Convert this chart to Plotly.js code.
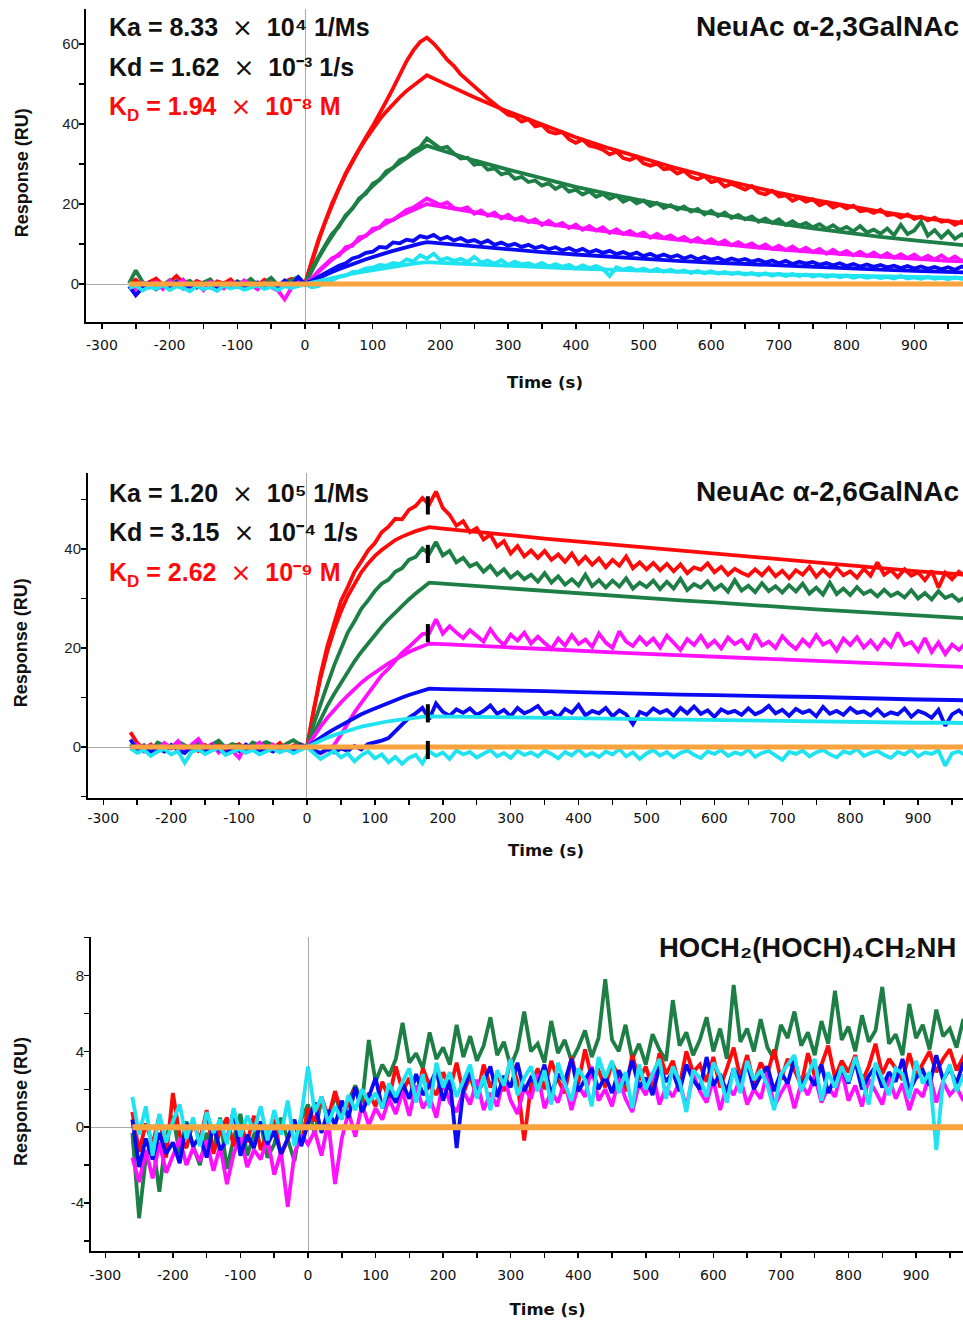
<!DOCTYPE html>
<html>
<head>
<meta charset="utf-8">
<script src="https://cdn.plot.ly/plotly-3.0.1.min.js"></script>
<style>
html,body{margin:0;padding:0;overflow:hidden;background:#fff;}
#chart{width:1004px;height:1321px;}
</style>
</head>
<body>
<div id="chart"></div>
<script>
// ---------- shared sampling grid (s) ----------
const time = [-260,-250,-240,-230,-220,-210,-200,-190,-180,-170,
-160,-150,-140,-130,-120,-110,-100,-90,-80,-70,
-60,-50,-40,-30,-20,-10,0,10,20,30,
40,50,60,70,80,90,100,110,120,130,
140,150,160,170,180,190,200,210,220,230,
240,250,260,270,280,290,300,310,320,330,
340,350,360,370,380,390,400,410,420,430,
440,450,460,470,480,490,500,510,520,530,
540,550,560,570,580,590,600,610,620,630,
640,650,660,670,680,690,700,710,720,730,
740,750,760,770,780,790,800,810,820,830,
840,850,860,870,880,890,900,910,920,930,
940,950,960,970,980];
const fitTime = [0,10,20,30,40,50,60,70,80,90,100,110,120,130,140,150,160,170,180,200,250,300,350,400,450,500,550,600,650,700,750,800,850,900,950,980];
const orangeTime = [-260,980];
const orangeValues = [0,0];

// ---------- tick labels ----------
const xTickVals = [-300,-200,-100,0,100,200,300,400,500,600,700,800,900];
const xTickText = ['-300','-200','-100','0','100','200','300','400','500','600','700','800','900'];
const p1YTicks = [0,20,40,60];
const p1YLabels = ['0','20','40','60'];
const p2YTicks = [0,20,40];
const p2YLabels = ['0','20','40'];
const p3YTicks = [-4,0,4,8];
const p3YLabels = ['-4','0','4','8'];

// ---------- panel 1 : NeuAc a-2,3GalNAc ----------
const p1RedData = [0.3,1.1,-0.4,0.6,1.4,-0.2,0.5,2.0,0.4,-0.6,
0.8,0.1,-0.9,0.7,0.2,1.2,-0.5,0.4,0.9,-0.3,
1.1,0.3,-0.7,0.6,1.3,0.4,0.0,5.8,11.2,15.7,
20.2,23.9,27.7,30.8,33.9,36.7,39.5,42.4,45.7,48.9,
52.3,55.7,58.4,60.5,61.6,60.1,58.2,56.1,54.5,52.4,
50.9,49.3,47.8,46.4,45.0,43.5,42.3,41.9,40.6,41.2,
39.4,39.8,38.1,37.6,38.0,36.2,35.3,36.1,34.6,34.2,
33.6,32.4,33.1,31.5,31.0,31.8,30.2,29.6,30.1,28.7,
28.9,27.6,28.3,26.8,26.2,27.0,25.5,25.9,24.4,25.1,
24.3,23.6,24.5,22.9,22.4,23.3,21.9,22.2,20.8,21.6,
20.6,21.2,19.7,20.4,19.1,19.8,18.9,19.6,18.2,18.5,
17.8,18.6,17.2,17.5,16.6,17.4,16.3,16.9,15.9,16.6,
15.6,15.9,14.8,15.7,15.0];
const p1GreenData = [0.2,3.4,0.6,-0.8,0.4,-0.3,1.0,-0.5,0.3,0.8,
-0.4,0.5,1.2,-0.6,0.2,-0.9,0.7,0.1,1.3,-0.2,
0.4,1.6,-0.3,0.5,0.9,1.8,0.0,3.8,6.9,9.8,
12.6,14.3,17.2,18.8,21.4,22.6,25.1,26.0,28.2,29.0,
31.0,31.6,33.3,34.2,36.4,35.1,33.9,34.3,32.6,31.4,
31.6,29.8,30.3,28.6,28.9,27.4,27.9,26.3,26.8,25.5,
25.9,24.6,25.2,23.8,24.7,23.1,23.6,22.4,23.2,21.8,
22.5,21.3,22.1,20.6,21.4,20.2,20.9,19.5,20.3,19.0,
19.7,18.6,19.4,18.1,18.8,17.4,18.3,17.0,17.9,16.5,
17.3,16.2,16.9,15.6,16.4,15.3,16.2,14.8,15.7,14.6,
15.3,14.2,15.0,13.8,14.7,13.5,14.3,13.2,14.5,12.9,
13.6,12.6,13.9,12.2,14.8,12.5,13.4,15.6,12.1,13.5,
11.6,13.2,11.3,12.4,11.0];
const p1MagentaData = [-0.6,-1.4,0.3,-0.8,0.5,-1.2,0.8,-0.4,1.1,-0.9,
0.2,-1.5,0.6,-0.3,-1.1,0.4,-0.7,0.9,-0.2,-1.3,
0.3,-0.8,-1.6,-3.8,-0.9,0.6,0.0,1.4,3.3,4.9,
6.5,7.1,9.2,9.6,11.7,12.0,13.8,14.1,15.9,16.0,
17.4,18.5,19.1,20.3,21.4,20.6,19.8,20.4,19.0,18.7,
19.2,17.6,18.4,17.1,17.9,16.4,17.3,16.0,16.8,15.5,
16.2,14.8,15.8,14.6,15.3,14.0,14.9,13.6,14.5,13.4,
14.2,12.8,13.7,12.5,13.3,12.2,12.9,11.6,12.6,11.5,
12.2,11.1,11.8,10.6,11.5,10.4,11.2,10.1,10.9,9.7,
10.5,9.5,10.2,9.1,9.9,8.8,9.6,8.5,9.4,8.3,
9.1,8.0,8.8,7.6,8.6,7.5,8.3,7.2,8.1,7.0,
7.9,6.8,7.7,6.6,7.5,6.5,7.4,6.2,7.1,6.1,
7.2,6.0,6.9,5.8,6.6];
const p1BlueData = [-0.5,-2.8,-0.9,0.4,-1.3,-0.2,-0.8,0.6,-1.1,-0.3,
-0.9,0.3,-0.6,-1.4,0.1,-0.7,0.5,-1.0,-0.2,0.4,
-0.8,0.2,-0.5,0.9,-0.3,1.7,0.0,0.9,1.9,2.8,
3.6,4.6,5.2,6.4,6.9,7.8,8.1,9.3,9.1,10.4,
10.2,11.1,10.8,12.0,11.6,12.3,11.2,11.8,10.9,11.5,
10.6,11.0,10.2,10.9,9.8,10.4,9.6,10.1,9.3,9.8,
9.0,9.5,8.7,9.2,8.4,9.0,8.2,8.8,7.9,8.5,
7.8,8.3,7.5,8.0,7.3,7.9,7.0,7.6,6.8,7.4,
6.7,7.2,6.4,7.0,6.2,6.8,6.1,6.6,5.8,6.4,
5.9,6.3,5.6,6.1,5.4,5.9,5.2,5.8,5.0,5.6,
5.1,5.5,4.8,5.3,4.7,5.2,4.5,5.0,4.4,4.9,
4.3,4.8,4.2,4.6,4.0,4.5,3.9,4.4,3.8,4.3,
3.7,4.2,3.6,4.4,3.8];
const p1CyanData = [-1.0,-0.4,-1.6,-0.7,-1.2,-0.3,-1.5,-0.6,-1.0,-1.8,
-0.5,-1.3,-0.8,-1.7,-0.4,-1.1,-0.6,-1.4,-0.9,-0.3,
-1.2,-0.7,-1.5,-0.5,-1.0,-0.4,0.0,-0.8,-0.5,0.4,
0.9,1.8,2.1,3.0,3.2,3.9,4.1,4.8,4.6,5.3,
5.0,6.2,5.7,7.2,6.4,7.6,6.0,6.5,5.8,6.3,
5.5,6.8,5.4,5.9,5.1,6.0,4.8,5.6,4.9,5.2,
4.6,5.3,4.4,5.0,4.3,4.8,3.9,4.7,4.0,4.5,
3.8,2.0,4.2,3.6,4.1,3.4,3.9,3.2,3.8,3.1,
3.6,3.0,3.4,2.8,3.3,2.7,3.2,2.6,3.0,2.5,
2.9,2.4,2.8,2.2,2.7,2.1,2.6,2.0,2.5,2.0,
2.4,1.9,2.3,1.8,2.2,1.7,2.1,1.6,2.0,1.6,
1.9,1.5,1.8,1.4,2.0,1.4,1.7,1.3,1.8,1.3,
1.6,1.2,1.7,1.3,1.5];
const p1RedFit = [0,5.7,10.8,15.6,19.9,23.8,27.4,30.6,33.6,36.3,38.8,41.1,43.1,45.0,46.7,48.3,49.7,51.0,52.2,50.6,46.7,43.1,39.8,36.7,33.9,31.3,28.9,26.7,24.7,22.8,21.1,19.5,18.1,16.8,15.7,15.1];
const p1GreenFit = [0,3.4,6.5,9.4,12.1,14.6,16.9,19.1,21.1,22.9,24.6,26.2,27.7,29.1,30.4,31.5,32.6,33.7,34.6,33.5,30.9,28.6,26.4,24.3,22.5,20.7,19.1,17.7,16.3,15.1,13.9,12.8,11.8,10.9,10.1,9.6];
const p1MagentaFit = [0,1.6,3.2,4.7,6.1,7.5,8.7,10.0,11.1,12.2,13.3,14.3,15.2,16.1,17.0,17.8,18.6,19.3,20.0,19.4,17.9,16.5,15.2,14.1,13.0,12.0,11.1,10.2,9.4,8.7,8.0,7.4,6.9,6.3,5.8,5.6];
const p1BlueFit = [0,0.8,1.6,2.3,3.0,3.7,4.4,5.0,5.6,6.2,6.8,7.3,7.8,8.3,8.8,9.3,9.7,10.1,10.5,10.2,9.4,8.7,8.0,7.4,6.8,6.3,5.8,5.4,5.0,4.6,4.2,3.9,3.6,3.3,3.1,2.9];
const p1CyanFit = [0,0.4,0.8,1.2,1.6,1.9,2.3,2.6,2.9,3.2,3.5,3.8,4.1,4.3,4.6,4.8,5.1,5.3,5.5,5.3,4.9,4.5,4.2,3.9,3.6,3.3,3.0,2.8,2.6,2.4,2.2,2.0,1.9,1.7,1.6,1.5];

// ---------- panel 2 : NeuAc a-2,6GalNAc ----------
const p2RedData = [3.0,0.8,-0.4,0.5,-0.9,0.3,-0.2,0.9,-0.6,0.2,
-0.8,0.4,-0.3,0.7,-1.0,0.1,0.6,-0.5,0.3,-0.7,
0.5,-0.2,0.8,-0.6,0.3,0.6,0.0,7.3,14.6,20.4,
25.1,29.5,32.3,35.4,37.5,39.7,41.2,43.4,44.5,46.1,
46.0,47.9,48.7,50.3,49.0,51.6,48.3,46.9,44.7,45.6,
43.4,44.2,41.9,42.9,40.5,41.6,39.1,40.6,38.5,39.7,
38.2,39.6,37.8,38.9,37.4,39.1,37.0,38.4,36.8,38.1,
36.3,37.8,36.6,38.5,36.1,37.3,35.9,37.2,35.7,37.0,
35.5,36.9,35.1,36.3,35.8,37.1,35.3,36.4,34.8,36.0,
35.2,34.6,35.9,34.7,36.2,34.5,35.6,34.1,35.7,34.8,
36.4,34.4,35.8,34.5,36.2,34.7,35.5,34.2,36.0,34.6,
37.3,34.8,35.7,34.3,35.9,34.6,35.3,33.7,35.6,32.2,
35.2,33.9,35.4,34.5,35.0];
const p2GreenData = [0.6,-0.5,0.4,-0.8,0.9,0.2,-0.3,1.1,0.3,-0.4,
0.8,-0.2,0.5,1.3,-0.1,0.6,0.2,-0.5,0.9,0.4,
1.0,0.3,-0.2,0.7,1.4,0.5,0.0,4.6,8.9,12.6,
16.5,19.8,23.1,25.4,27.9,29.6,31.5,33.0,33.8,35.4,
36.1,37.8,38.4,40.1,39.0,41.4,38.7,39.6,37.3,38.2,
36.5,37.1,35.4,36.6,34.8,35.9,34.2,35.3,33.9,34.8,
33.4,35.1,33.2,34.5,32.8,33.9,32.6,34.8,32.5,33.7,
32.2,33.6,32.4,34.1,32.0,33.2,32.3,33.6,31.9,33.4,
32.0,34.0,31.7,32.9,32.2,33.5,31.8,32.8,31.4,33.7,
31.6,32.6,31.3,33.1,31.5,32.5,31.2,32.7,31.4,33.0,
31.0,32.2,30.8,33.2,30.9,32.0,30.7,32.3,30.9,31.6,
30.4,31.8,30.5,31.2,30.2,31.7,30.0,31.1,29.8,31.5,
30.1,30.7,29.5,30.3,29.8];
const p2MagentaData = [-0.4,0.5,-0.9,0.3,-0.6,0.8,-0.2,1.2,-0.7,0.4,
1.6,-0.3,0.6,-1.1,0.2,-0.8,-2.2,0.4,-0.5,0.9,
-0.3,0.5,-0.9,0.2,-0.6,0.3,0.0,-0.8,-1.3,-0.6,
0.4,2.5,4.8,7.0,8.9,10.8,12.6,14.5,15.8,17.4,
19.0,20.2,21.6,22.8,23.0,25.8,22.9,24.4,23.1,22.0,
23.6,22.4,21.3,23.8,21.9,20.6,22.7,21.5,23.1,20.9,
22.3,21.0,19.8,21.9,20.5,22.6,20.8,21.7,20.2,22.9,
21.1,20.0,23.4,21.3,20.4,22.2,20.7,21.9,20.1,22.5,
21.0,19.6,21.8,20.6,22.4,20.3,21.5,19.9,22.1,20.8,
21.6,19.7,22.8,20.5,21.3,20.0,22.4,20.9,19.8,21.7,
20.4,22.6,20.7,21.4,19.5,21.9,20.6,22.2,20.1,21.5,
19.8,21.7,20.3,23.1,20.6,21.2,19.4,22.0,19.2,21.1,
18.8,20.7,19.6,21.0,20.2];
const p2BlueData = [1.5,-0.6,0.2,-1.1,-0.3,-0.9,0.4,-0.7,-1.2,0.1,
-0.5,-1.0,0.3,-0.6,-1.3,-0.2,-0.8,0.5,-0.4,-1.1,
-0.3,-0.9,0.2,-0.5,-1.0,0.4,0.0,-0.6,-1.2,-0.4,
-1.1,-0.3,-0.8,0.2,-0.5,0.6,0.9,1.3,1.8,3.2,
4.6,5.9,6.8,7.9,5.6,8.8,7.1,6.3,7.6,6.9,
7.8,6.5,7.3,8.4,6.7,7.5,6.2,7.9,6.8,7.4,
8.3,6.6,7.2,6.0,7.7,6.9,8.5,6.4,7.3,6.8,
7.9,6.2,7.4,6.6,4.6,7.1,6.5,7.8,6.9,7.5,
6.3,7.9,6.8,8.2,6.7,7.4,6.1,7.6,6.9,7.3,
6.5,7.8,6.6,7.2,8.3,6.8,7.5,6.3,7.7,6.9,
7.4,6.2,8.1,6.7,7.3,6.5,7.9,6.9,7.2,6.4,
7.6,6.3,7.0,6.6,7.8,6.1,7.3,6.8,5.9,7.5,
4.3,6.6,7.4,6.2,7.0];
const p2CyanData = [-0.3,-1.2,-0.6,-1.8,-0.9,-0.4,-1.5,-0.8,-3.2,-1.0,
-0.5,-1.4,-0.7,-0.2,-1.6,-0.9,-0.4,-1.2,-0.6,-1.5,
-0.8,-0.3,-1.1,-0.5,-1.3,-0.7,0.0,-1.2,-2.4,-1.6,
-0.8,-2.1,-1.3,-2.9,-1.7,-0.9,-2.3,-1.5,-3.1,-2.0,
-3.4,-2.2,-1.6,-3.3,-0.9,-1.8,-1.1,-2.4,-0.7,-1.5,
-1.0,-2.1,-1.4,-0.6,-1.9,-1.2,-2.2,-0.8,-1.6,-1.1,
-1.9,-0.7,-1.4,-2.3,-1.0,-1.7,-0.5,-1.8,-1.2,-2.0,
-0.9,-1.5,-0.4,-1.9,-1.1,-2.4,-1.3,-0.6,-1.7,-1.0,
-2.1,-1.2,-0.7,-1.6,-2.2,-0.9,-1.4,-0.6,-1.8,-1.1,
-1.5,-0.5,-2.0,-1.2,-0.8,-1.7,-2.6,-1.0,-1.4,-0.7,
-1.9,-1.1,-0.6,-1.5,-2.1,-0.9,-1.3,-0.4,-1.8,-1.2,
-0.8,-1.6,-2.2,-1.0,-1.5,-0.6,-1.9,-1.1,-1.4,-0.7,
-3.8,-1.3,-0.9,-1.7,-1.2];
const p2RedFit = [0,7.6,14.0,19.3,23.7,27.4,30.5,33.1,35.3,37.1,38.6,39.8,40.9,41.8,42.5,43.1,43.6,44.0,44.4,44.1,43.5,42.8,42.1,41.5,40.8,40.2,39.6,39.0,38.4,37.8,37.2,36.6,36.1,35.5,35.0,34.7];
const p2GreenFit = [0,2.9,5.7,8.3,10.7,13.0,15.2,17.3,19.2,21.0,22.7,24.3,25.8,27.2,28.6,29.8,31.0,32.2,33.2,33.0,32.5,32.0,31.5,31.0,30.5,30.1,29.6,29.2,28.7,28.3,27.8,27.4,27.0,26.6,26.2,25.9];
const p2MagentaFit = [0,2.1,4.1,5.9,7.5,9.0,10.4,11.8,13.0,14.1,15.1,16.0,16.9,17.7,18.5,19.2,19.8,20.4,20.9,20.8,20.4,20.1,19.8,19.4,19.1,18.8,18.5,18.2,17.9,17.6,17.3,17.0,16.8,16.5,16.2,16.1];
const p2BlueFit = [0,1.0,1.9,2.8,3.6,4.4,5.2,5.9,6.6,7.2,7.8,8.4,9.0,9.5,10.0,10.5,11.0,11.4,11.8,11.7,11.6,11.4,11.3,11.1,10.9,10.8,10.6,10.5,10.3,10.2,10.1,9.9,9.8,9.6,9.5,9.4];
const p2CyanFit = [0,0.7,1.3,1.9,2.4,2.9,3.3,3.7,4.1,4.4,4.7,4.9,5.2,5.4,5.6,5.8,5.9,6.1,6.2,6.2,6.1,6.0,5.9,5.8,5.7,5.6,5.5,5.4,5.3,5.3,5.2,5.1,5.0,4.9,4.9,4.8];
const p2EventTime = [178,178,178,178,178];
const p2EventValues = [48.8,39.0,23.0,6.8,-0.6];

// ---------- panel 3 : HOCH2(HOCH)4CH2NH ----------
const p3GreenData = [-0.3,-4.8,-1.6,-0.7,-3.4,-0.5,0.6,-1.4,0.3,-1.0,
-2.0,-0.3,-1.2,0.5,-2.2,-0.6,0.7,-1.5,-0.4,0.2,
-1.6,-0.9,0.5,-0.7,-1.8,0.4,1.2,-0.4,1.5,0.3,
1.7,0.6,1.4,2.2,1.3,4.6,2.4,3.3,2.7,3.6,
5.5,3.4,3.9,3.1,5.0,3.6,4.2,3.3,5.4,3.7,
4.8,3.5,4.3,5.8,3.8,4.5,3.2,4.1,6.1,4.0,
4.4,3.4,5.6,3.9,4.6,3.5,4.2,5.1,3.7,4.7,
7.8,4.6,4.0,5.4,3.6,4.4,3.3,4.9,4.1,3.5,
6.7,4.3,5.0,3.8,4.6,5.8,4.0,5.2,3.6,7.5,
4.5,5.2,4.0,5.7,4.2,3.6,5.4,4.7,6.1,4.3,
5.0,3.8,5.6,4.4,7.2,4.6,5.3,4.0,5.9,4.5,
5.1,7.4,4.4,4.9,3.8,6.5,4.7,5.4,4.1,6.2,
4.8,5.2,4.2,5.7,5.0];
const p3RedData = [0.8,-1.3,0.2,-0.9,0.6,-1.6,1.8,-0.4,-1.1,0.3,
-0.7,0.9,-1.4,-0.2,0.5,-1.0,0.1,-0.8,0.6,-1.2,
-0.3,0.4,-1.5,-0.6,0.2,-0.9,1.0,0.3,1.6,0.5,
1.9,0.7,1.2,2.1,0.9,1.8,1.1,2.4,1.5,3.2,
1.9,2.6,1.4,3.1,2.2,1.7,2.9,2.0,3.4,1.8,
2.7,1.6,3.3,2.1,2.8,1.9,3.6,2.4,-0.7,2.2,
3.1,2.0,3.5,2.5,1.8,3.7,2.3,4.1,2.6,3.0,
2.1,3.4,2.7,1.9,3.8,2.5,3.2,2.0,3.9,2.8,
3.5,2.2,4.0,2.9,3.3,2.4,3.7,2.1,3.1,4.2,
2.6,3.8,2.3,3.4,2.8,4.1,2.5,3.6,3.0,2.2,
3.9,2.7,3.3,4.3,2.6,3.5,2.9,3.8,2.4,3.2,
4.4,2.8,3.6,3.1,2.5,3.9,2.7,3.4,4.0,2.9,
3.6,4.1,3.0,3.7,3.3];
const p3MagentaData = [-1.6,-2.9,-1.2,-2.7,-0.8,-2.4,-1.5,-0.6,-2.0,-1.1,
-1.8,-0.7,-2.3,-1.0,-3.0,-1.4,-0.5,-2.1,-1.2,-1.7,
-0.6,-2.5,-1.3,-4.2,-1.4,-0.4,-0.9,-0.2,-1.5,0.3,
-3.0,-0.6,0.8,-0.5,1.2,0.1,1.0,0.4,1.5,0.7,
1.9,0.6,2.2,1.0,1.6,0.5,2.4,1.3,0.8,1.9,
1.2,2.5,0.9,1.8,1.1,2.7,1.4,0.7,2.1,1.5,
2.8,1.0,1.9,1.3,2.4,0.9,2.2,1.6,3.2,1.4,
2.0,1.1,2.6,1.5,0.8,2.3,1.7,2.9,1.2,2.1,
1.6,2.4,1.0,2.8,1.9,1.3,2.5,0.9,2.2,1.7,
2.6,1.2,2.0,1.5,2.9,1.1,1.8,2.4,1.0,2.3,
1.7,2.7,1.3,2.1,1.6,3.0,1.4,2.2,1.1,2.5,
1.9,1.2,2.6,1.5,2.3,0.9,2.0,1.6,2.8,1.3,
2.4,1.7,2.1,1.4,2.2];
const p3BlueData = [0.4,-2.1,-0.6,-1.7,-0.3,-1.4,-0.8,-1.9,0.2,-1.0,
-0.5,-1.6,0.1,-1.2,-0.7,0.9,-1.5,-0.4,-1.1,0.3,
-0.9,-0.2,-1.4,-0.6,0.4,-1.0,0.2,1.3,-0.3,0.9,
0.1,1.4,0.5,2.1,0.8,1.6,2.6,1.0,1.9,1.3,
2.3,1.5,2.8,1.7,2.2,3.0,1.4,2.5,-1.1,2.0,
2.9,1.8,2.4,3.2,1.6,2.7,2.1,3.4,1.9,2.6,
2.2,3.3,1.7,2.8,2.4,3.6,1.9,2.5,3.1,2.0,
2.7,1.8,3.0,2.3,3.5,2.1,2.6,1.7,3.2,2.4,
2.9,1.9,3.3,2.5,2.0,3.7,2.2,2.8,1.8,3.1,
2.4,3.4,2.0,2.7,3.2,1.9,2.9,2.3,3.6,2.1,
2.8,2.2,3.3,1.8,2.6,3.1,2.3,3.5,2.0,2.7,
3.2,2.1,2.9,2.4,3.6,1.9,2.6,3.0,2.2,3.8,
2.5,3.1,2.3,3.4,2.8];
const p3CyanData = [1.6,-0.4,1.1,-1.5,0.7,-0.8,0.3,1.2,-0.6,0.5,
-1.0,0.8,-0.3,0.4,-0.9,1.0,-0.5,0.6,-0.2,1.1,
-0.7,0.9,-0.4,1.4,-1.0,0.6,3.2,0.8,1.6,0.2,
1.1,0.4,1.7,0.9,2.0,1.3,1.8,1.0,2.3,1.6,
2.4,3.1,1.3,2.8,1.0,3.4,2.1,2.9,1.6,2.5,
3.3,1.5,2.7,0.9,3.0,2.2,3.6,1.7,2.6,3.2,
1.9,3.0,1.2,3.4,2.3,1.4,3.1,2.5,1.1,3.7,
2.6,3.5,1.8,2.9,1.0,3.3,2.0,2.8,3.6,1.5,
3.2,2.4,0.8,3.0,2.6,1.6,3.4,2.7,1.3,3.1,
1.8,3.5,2.5,3.0,2.2,0.9,2.8,3.3,3.8,1.9,
2.7,3.6,1.4,2.9,2.1,3.2,2.4,3.7,2.6,1.2,
3.4,2.6,1.7,3.1,2.8,1.5,3.5,2.3,2.9,-1.2,
2.4,3.3,1.9,2.7,2.6];

// ---------- styling ----------
const C = {red:'#ff0a0a', green:'#1e7f46', magenta:'#ff10ff', blue:'#0a0af5', cyan:'#1fe3f0', orange:'#f8a33e'};
const W = 1004, H = 1321;
const LW = 3.8;
const traces = [];
function line(x, y, color, width, xa, ya){
  traces.push({type:'scatter', mode:'lines', x:x, y:y, xaxis:xa, yaxis:ya,
    line:{color:color, width:width}, hoverinfo:'skip', showlegend:false});
}
// panel 1
line(time, p1RedData, C.red, LW, 'x', 'y');
line(fitTime, p1RedFit, C.red, LW, 'x', 'y');
line(time, p1GreenData, C.green, LW, 'x', 'y');
line(fitTime, p1GreenFit, C.green, LW, 'x', 'y');
line(time, p1MagentaData, C.magenta, LW, 'x', 'y');
line(fitTime, p1MagentaFit, C.magenta, LW, 'x', 'y');
line(time, p1BlueData, C.blue, LW, 'x', 'y');
line(fitTime, p1BlueFit, C.blue, LW, 'x', 'y');
line(time, p1CyanData, C.cyan, LW, 'x', 'y');
line(fitTime, p1CyanFit, C.cyan, LW, 'x', 'y');
line(orangeTime, orangeValues, C.orange, 5, 'x', 'y');
// panel 2
line(time, p2RedData, C.red, LW, 'x2', 'y2');
line(fitTime, p2RedFit, C.red, LW, 'x2', 'y2');
line(time, p2GreenData, C.green, LW, 'x2', 'y2');
line(fitTime, p2GreenFit, C.green, LW, 'x2', 'y2');
line(time, p2MagentaData, C.magenta, LW, 'x2', 'y2');
line(fitTime, p2MagentaFit, C.magenta, LW, 'x2', 'y2');
line(time, p2BlueData, C.blue, LW, 'x2', 'y2');
line(fitTime, p2BlueFit, C.blue, LW, 'x2', 'y2');
line(fitTime, p2CyanFit, C.cyan, LW, 'x2', 'y2');
line(time, p2CyanData, C.cyan, LW, 'x2', 'y2');
line(orangeTime, orangeValues, C.orange, 5, 'x2', 'y2');
traces.push({type:'scatter', mode:'markers', x:p2EventTime, y:p2EventValues, xaxis:'x2', yaxis:'y2',
  marker:{symbol:'line-ns', size:13, line:{color:'#000', width:4}}, hoverinfo:'skip', showlegend:false});
// panel 3
line(time, p3GreenData, C.green, LW, 'x3', 'y3');
line(time, p3RedData, C.red, LW, 'x3', 'y3');
line(time, p3MagentaData, C.magenta, LW, 'x3', 'y3');
line(time, p3BlueData, C.blue, LW, 'x3', 'y3');
line(time, p3CyanData, C.cyan, LW, 'x3', 'y3');
line(orangeTime, orangeValues, C.orange, 6, 'x3', 'y3');

const panels = [
  {n:'',  left:86, top:9,   bottom:321.7, xr:[-323.5,1032.5], yr:[-9.4,68.75],  yt:p1YTicks, yl:p1YLabels, ydt:10, xls:4, xts:25, yts:29},
  {n:'2', left:88, top:473, bottom:797.5, xr:[-322.5,1026.5], yr:[-10.2,55.35], yt:p2YTicks, yl:p2YLabels, ydt:10, xls:2, xts:19, yts:32},
  {n:'3', left:91, top:937, bottom:1251,  xr:[-321.2,1030.2], yr:[-6.53,10.03], yt:p3YTicks, yl:p3YLabels, ydt:2,  xls:5, xts:22, yts:38}
];
const layout = {
  width:W, height:H, margin:{l:0,r:0,t:0,b:0},
  paper_bgcolor:'#ffffff', plot_bgcolor:'rgba(0,0,0,0)', showlegend:false,
  annotations:[]
};
const tk = {tickcolor:'#000', tickwidth:1.5, ticklen:5};
const NB = '\u00a0';
panels.forEach(function(p, i){
  const xn = 'xaxis' + p.n, yn = 'yaxis' + p.n;
  const xid = 'x' + p.n, yid = 'y' + p.n;
  layout[xn] = Object.assign({
    domain:[p.left/W, 1], range:p.xr, anchor:yid,
    showline:true, linecolor:'#000', linewidth:2, ticks:'outside',
    tickmode:'array', tickvals:xTickVals, ticktext:xTickText, ticklabelstandoff:p.xls,
    minor:Object.assign({dtick:50, tick0:0, ticks:'outside', showgrid:false}, tk),
    tickfont:{family:'DejaVu Sans, Verdana, sans-serif', size:14, color:'#111'},
    zeroline:true, zerolinecolor:'#a9a9a9', zerolinewidth:1, showgrid:false,
    title:{text:'Time (s)', font:{family:'DejaVu Sans, Verdana, sans-serif', size:16.5, color:'#111', weight:'bold'}, standoff:p.xts}
  }, tk);
  layout[yn] = Object.assign({
    domain:[1 - p.bottom/H, 1 - p.top/H], range:p.yr, anchor:xid,
    showline:true, linecolor:'#000', linewidth:2, ticks:'outside',
    tickmode:'array', tickvals:p.yt, ticktext:p.yl, ticklabelstandoff:-3,
    minor:Object.assign({dtick:p.ydt, tick0:0, ticks:'outside', showgrid:false}, tk),
    tickfont:{family:'Liberation Sans, Arial, sans-serif', size:15, color:'#222'},
    zeroline:true, zerolinecolor:'#a9a9a9', zerolinewidth:1, showgrid:false,
    title:{text:'Response (RU)' + NB + NB + NB + '\u200b', font:{family:'Liberation Sans, Arial, sans-serif', size:18, color:'#111', weight:'bold'}, standoff:p.yts}
  }, tk);
  // overlay axes carrying the inner half of each tick
  layout['xaxis' + (4+i)] = Object.assign({
    overlaying:xid, anchor:yid, range:p.xr, tickmode:'array', tickvals:xTickVals,
    minor:Object.assign({dtick:50, tick0:0, ticks:'inside', showgrid:false}, tk),
    ticks:'inside', showticklabels:false, showline:false, zeroline:false, showgrid:false
  }, tk);
  layout['yaxis' + (4+i)] = Object.assign({
    overlaying:yid, anchor:xid, side:'left', range:p.yr, tickmode:'array', tickvals:p.yt,
    minor:Object.assign({dtick:p.ydt, tick0:0, ticks:'inside', showgrid:false}, tk),
    ticks:'inside', showticklabels:false, showline:false, zeroline:false, showgrid:false
  }, tk);
});

const TIMES = '<span style="font-family:DejaVu Sans;font-weight:normal">×</span>';
const SUB_D = '<span style="font-size:17px;baseline-shift:-6px">D</span>';
function ann(xpx, ypx, text, color, size, xanchor){
  layout.annotations.push({xref:'paper', yref:'paper', x:xpx/W, y:1 - ypx/H,
    xanchor:xanchor, yanchor:'middle', showarrow:false, text:text,
    font:{family:'Liberation Sans, Arial, sans-serif', size:size, color:color, weight:'bold'}});
}
const SP = NB + NB;
// panel 1 texts
ann(107, 27, 'Ka = 8.33' + SP + TIMES + SP + '10⁴ 1/Ms', '#111', 25, 'left');
ann(107, 67, 'Kd = 1.62' + SP + TIMES + SP + '10⁻³ 1/s', '#111', 25, 'left');
ann(107, 108, 'K' + SUB_D + ' = 1.94' + SP + TIMES + SP + '10⁻⁸ M', '#ff0a0a', 25, 'left');
ann(961, 26, 'NeuAc α-2,3GalNAc', '#111', 28, 'right');
// panel 2 texts
ann(107, 493, 'Ka = 1.20' + SP + TIMES + SP + '10⁵ 1/Ms', '#111', 25, 'left');
ann(107, 532, 'Kd = 3.15' + SP + TIMES + SP + '10⁻⁴ 1/s', '#111', 25, 'left');
ann(107, 574, 'K' + SUB_D + ' = 2.62' + SP + TIMES + SP + '10⁻⁹ M', '#ff0a0a', 25, 'left');
ann(961, 491, 'NeuAc α-2,6GalNAc', '#111', 28, 'right');
// panel 3 text
ann(958, 947, 'HOCH₂(HOCH)₄CH₂NH', '#111', 27.5, 'right');

Plotly.newPlot('chart', traces, layout, {staticPlot:true, displayModeBar:false});
</script>
</body>
</html>
